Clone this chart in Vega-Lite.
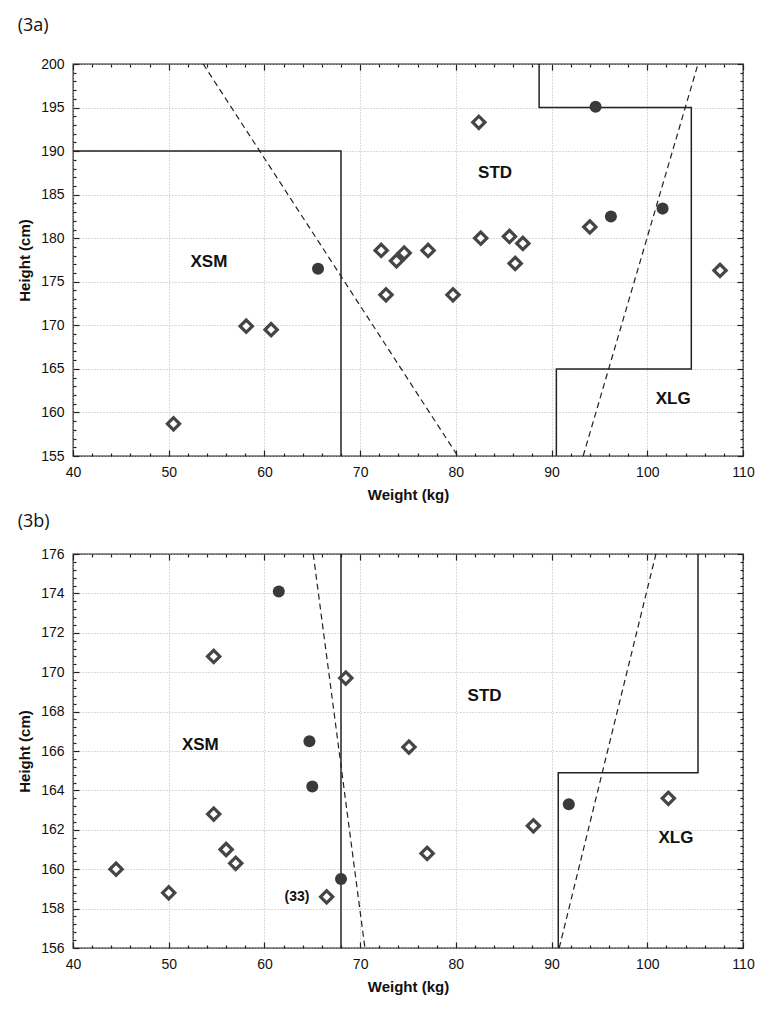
{
  "$schema": "https://vega.github.io/schema/vega-lite/v6.json",
  "padding": {"left": 16, "top": 16, "right": 10, "bottom": 4},
  "spacing": 9,
  "config": {
    "font": "Liberation Sans",
    "view": {"stroke": "#222", "strokeWidth": 1.3},
    "axis": {
      "labelFont": "Liberation Sans", "labelFontSize": 14, "labelColor": "#111",
      "titleFont": "Liberation Sans", "titleFontSize": 15, "titleFontWeight": "bold", "titleColor": "#111",
      "tickColor": "#222", "tickWidth": 1.2, "domain": false,
      "labelOverlap": false, "labelFlush": false,
      "gridColor": "#b5b5b5", "gridDash": [1, 2], "gridWidth": 1
    },
    "title": {"font": "Open Sans", "fontSize": 18, "fontWeight": "normal", "color": "#111", "anchor": "start", "frame": "bounds"}
  },
  "datasets": {
    "a_pts": [
      {"w": 50.5, "h": 158.7, "kind": "open"},
      {"w": 58.1, "h": 169.9, "kind": "open"},
      {"w": 60.7, "h": 169.5, "kind": "open"},
      {"w": 72.2, "h": 178.6, "kind": "open"},
      {"w": 72.7, "h": 173.5, "kind": "open"},
      {"w": 73.8, "h": 177.4, "kind": "open"},
      {"w": 74.6, "h": 178.3, "kind": "open"},
      {"w": 77.1, "h": 178.6, "kind": "open"},
      {"w": 79.7, "h": 173.5, "kind": "open"},
      {"w": 82.4, "h": 193.3, "kind": "open"},
      {"w": 82.6, "h": 180.0, "kind": "open"},
      {"w": 85.6, "h": 180.2, "kind": "open"},
      {"w": 86.2, "h": 177.1, "kind": "open"},
      {"w": 87.0, "h": 179.4, "kind": "open"},
      {"w": 94.0, "h": 181.3, "kind": "open"},
      {"w": 107.6, "h": 176.3, "kind": "open"},
      {"w": 65.6, "h": 176.5, "kind": "filled"},
      {"w": 94.6, "h": 195.1, "kind": "filled"},
      {"w": 96.2, "h": 182.5, "kind": "filled"},
      {"w": 101.6, "h": 183.4, "kind": "filled"}
    ],
    "a_solid": [
      {"seg": "xsm", "ord": 1, "w": 40, "h": 190},
      {"seg": "xsm", "ord": 2, "w": 68, "h": 190},
      {"seg": "xsm", "ord": 3, "w": 68, "h": 155},
      {"seg": "std", "ord": 1, "w": 88.7, "h": 200},
      {"seg": "std", "ord": 2, "w": 88.7, "h": 195},
      {"seg": "std", "ord": 3, "w": 104.6, "h": 195},
      {"seg": "std", "ord": 4, "w": 104.6, "h": 165},
      {"seg": "std", "ord": 5, "w": 90.5, "h": 165},
      {"seg": "std", "ord": 6, "w": 90.5, "h": 155}
    ],
    "a_dash": [
      {"seg": "d1", "ord": 1, "w": 53.6, "h": 200},
      {"seg": "d1", "ord": 2, "w": 80.2, "h": 155},
      {"seg": "d2", "ord": 1, "w": 93.3, "h": 155},
      {"seg": "d2", "ord": 2, "w": 105.3, "h": 200}
    ],
    "a_labels": [
      {"w": 54.2, "h": 177.3, "label": "XSM"},
      {"w": 84.1, "h": 187.5, "label": "STD"},
      {"w": 102.7, "h": 161.5, "label": "XLG"}
    ],
    "b_pts": [
      {"w": 44.5, "h": 160.0, "kind": "open"},
      {"w": 50.0, "h": 158.8, "kind": "open"},
      {"w": 54.7, "h": 170.8, "kind": "open"},
      {"w": 54.7, "h": 162.8, "kind": "open"},
      {"w": 56.0, "h": 161.0, "kind": "open"},
      {"w": 57.0, "h": 160.3, "kind": "open"},
      {"w": 66.5, "h": 158.6, "kind": "open"},
      {"w": 68.5, "h": 169.7, "kind": "open"},
      {"w": 75.1, "h": 166.2, "kind": "open"},
      {"w": 77.0, "h": 160.8, "kind": "open"},
      {"w": 88.1, "h": 162.2, "kind": "open"},
      {"w": 102.2, "h": 163.6, "kind": "open"},
      {"w": 61.5, "h": 174.1, "kind": "filled"},
      {"w": 64.7, "h": 166.5, "kind": "filled"},
      {"w": 65.0, "h": 164.2, "kind": "filled"},
      {"w": 68.0, "h": 159.5, "kind": "filled"},
      {"w": 91.8, "h": 163.3, "kind": "filled"}
    ],
    "b_solid": [
      {"seg": "xsm", "ord": 1, "w": 68, "h": 156},
      {"seg": "xsm", "ord": 2, "w": 68, "h": 176},
      {"seg": "std", "ord": 1, "w": 90.7, "h": 156},
      {"seg": "std", "ord": 2, "w": 90.7, "h": 164.9},
      {"seg": "std", "ord": 3, "w": 105.3, "h": 164.9},
      {"seg": "std", "ord": 4, "w": 105.3, "h": 176}
    ],
    "b_dash": [
      {"seg": "d1", "ord": 1, "w": 65.1, "h": 176},
      {"seg": "d1", "ord": 2, "w": 70.5, "h": 156},
      {"seg": "d2", "ord": 1, "w": 90.8, "h": 156},
      {"seg": "d2", "ord": 2, "w": 100.9, "h": 176}
    ],
    "b_labels": [
      {"w": 53.3, "h": 166.3, "label": "XSM", "big": 1},
      {"w": 83.0, "h": 168.8, "label": "STD", "big": 1},
      {"w": 103.0, "h": 161.6, "label": "XLG", "big": 1},
      {"w": 63.4, "h": 158.6, "label": "(33)", "big": 0}
    ]
  },
  "vconcat": [
    {
      "title": {"text": "(3a)", "offset": 22},
      "width": 670,
      "height": 392,
      "resolve": {"axis": {"x": "independent", "y": "independent"}},
      "layer": [
        {
          "data": {"name": "a_solid"},
          "mark": {"type": "line", "color": "#222", "strokeWidth": 1.5},
          "encoding": {
            "x": {"field": "w", "type": "quantitative", "scale": {"domain": [40, 110], "nice": false, "zero": false},
              "axis": {"orient": "bottom", "values": [40,42,44,46,48,50,52,54,56,58,60,62,64,66,68,70,72,74,76,78,80,82,84,86,88,90,92,94,96,98,100,102,104,106,108,110],
                "labelExpr": "datum.value % 10 === 0 ? datum.label : ''",
                "grid": true,
                "gridOpacity": {"condition": {"test": "datum.value % 10 === 0", "value": 1}, "value": 0},
                "tickSize": {"condition": {"test": "datum.value % 10 === 0", "value": -6}, "value": -3},
                "labelPadding": 15, "title": "Weight (kg)", "titlePadding": 5}},
            "y": {"field": "h", "type": "quantitative", "scale": {"domain": [155, 200], "nice": false, "zero": false},
              "axis": {"orient": "left", "values": [155,156,157,158,159,160,161,162,163,164,165,166,167,168,169,170,171,172,173,174,175,176,177,178,179,180,181,182,183,184,185,186,187,188,189,190,191,192,193,194,195,196,197,198,199,200],
                "labelExpr": "datum.value % 5 === 0 ? datum.label : ''",
                "grid": true,
                "gridOpacity": {"condition": {"test": "datum.value % 5 === 0", "value": 1}, "value": 0},
                "tickSize": {"condition": {"test": "datum.value % 5 === 0", "value": -6}, "value": -3},
                "labelPadding": 15, "title": "Height (cm)", "titlePadding": 8}},
            "detail": {"field": "seg"},
            "order": {"field": "ord"}
          }
        },
        {
          "data": {"name": "a_dash"},
          "mark": {"type": "line", "color": "#222", "strokeWidth": 1.2, "strokeDash": [6, 4]},
          "encoding": {
            "x": {"field": "w", "type": "quantitative", "axis": null},
            "y": {"field": "h", "type": "quantitative", "axis": null},
            "detail": {"field": "seg"},
            "order": {"field": "ord"}
          }
        },
        {
          "data": {"name": "a_pts"},
          "transform": [{"filter": "datum.kind === 'open'"}],
          "mark": {"type": "point", "shape": "diamond", "filled": false, "fill": "white", "fillOpacity": 1, "stroke": "#454545", "strokeWidth": 3.2, "size": 150, "opacity": 1},
          "encoding": {
            "x": {"field": "w", "type": "quantitative", "axis": null},
            "y": {"field": "h", "type": "quantitative", "axis": null}
          }
        },
        {
          "data": {"name": "a_pts"},
          "transform": [{"filter": "datum.kind === 'filled'"}],
          "mark": {"type": "circle", "color": "#3a3a3a", "size": 145, "opacity": 1},
          "encoding": {
            "x": {"field": "w", "type": "quantitative", "axis": null},
            "y": {"field": "h", "type": "quantitative", "axis": null}
          }
        },
        {
          "data": {"name": "a_labels"},
          "mark": {"type": "text", "font": "Liberation Sans", "fontSize": 17, "fontWeight": "bold", "color": "#111"},
          "encoding": {
            "x": {"field": "w", "type": "quantitative",
              "axis": {"orient": "top", "values": [40,42,44,46,48,50,52,54,56,58,60,62,64,66,68,70,72,74,76,78,80,82,84,86,88,90,92,94,96,98,100,102,104,106,108,110],
                "labels": false, "grid": false, "title": null,
                "tickSize": {"condition": {"test": "datum.value % 10 === 0", "value": -6}, "value": -3}}},
            "y": {"field": "h", "type": "quantitative",
              "axis": {"orient": "right", "values": [155,156,157,158,159,160,161,162,163,164,165,166,167,168,169,170,171,172,173,174,175,176,177,178,179,180,181,182,183,184,185,186,187,188,189,190,191,192,193,194,195,196,197,198,199,200],
                "labels": false, "grid": false, "title": null,
                "tickSize": {"condition": {"test": "datum.value % 5 === 0", "value": -6}, "value": -3}}},
            "text": {"field": "label"}
          }
        }
      ]
    },
    {
      "title": {"text": "(3b)", "offset": 16},
      "width": 670,
      "height": 394,
      "resolve": {"axis": {"x": "independent", "y": "independent"}},
      "layer": [
        {
          "data": {"name": "b_solid"},
          "mark": {"type": "line", "color": "#222", "strokeWidth": 1.5},
          "encoding": {
            "x": {"field": "w", "type": "quantitative", "scale": {"domain": [40, 110], "nice": false, "zero": false},
              "axis": {"orient": "bottom", "values": [40,42,44,46,48,50,52,54,56,58,60,62,64,66,68,70,72,74,76,78,80,82,84,86,88,90,92,94,96,98,100,102,104,106,108,110],
                "labelExpr": "datum.value % 10 === 0 ? datum.label : ''",
                "grid": true,
                "gridOpacity": {"condition": {"test": "datum.value % 10 === 0", "value": 1}, "value": 0},
                "tickSize": {"condition": {"test": "datum.value % 10 === 0", "value": -6}, "value": -3},
                "labelPadding": 15, "title": "Weight (kg)", "titlePadding": 5}},
            "y": {"field": "h", "type": "quantitative", "scale": {"domain": [156, 176], "nice": false, "zero": false},
              "axis": {"orient": "left", "values": [156,156.4,156.8,157.2,157.6,158,158.4,158.8,159.2,159.6,160,160.4,160.8,161.2,161.6,162,162.4,162.8,163.2,163.6,164,164.4,164.8,165.2,165.6,166,166.4,166.8,167.2,167.6,168,168.4,168.8,169.2,169.6,170,170.4,170.8,171.2,171.6,172,172.4,172.8,173.2,173.6,174,174.4,174.8,175.2,175.6,176],
                "labelExpr": "abs(datum.value / 2 - round(datum.value / 2)) < 0.001 ? format(datum.value, 'd') : ''",
                "grid": true,
                "gridOpacity": {"condition": {"test": "abs(datum.value / 2 - round(datum.value / 2)) < 0.001", "value": 1}, "value": 0},
                "tickSize": {"condition": {"test": "abs(datum.value / 2 - round(datum.value / 2)) < 0.001", "value": -6}, "value": -3},
                "labelPadding": 15, "title": "Height (cm)", "titlePadding": 8}},
            "detail": {"field": "seg"},
            "order": {"field": "ord"}
          }
        },
        {
          "data": {"name": "b_dash"},
          "mark": {"type": "line", "color": "#222", "strokeWidth": 1.2, "strokeDash": [6, 4]},
          "encoding": {
            "x": {"field": "w", "type": "quantitative", "axis": null},
            "y": {"field": "h", "type": "quantitative", "axis": null},
            "detail": {"field": "seg"},
            "order": {"field": "ord"}
          }
        },
        {
          "data": {"name": "b_pts"},
          "transform": [{"filter": "datum.kind === 'open'"}],
          "mark": {"type": "point", "shape": "diamond", "filled": false, "fill": "white", "fillOpacity": 1, "stroke": "#454545", "strokeWidth": 3.2, "size": 150, "opacity": 1},
          "encoding": {
            "x": {"field": "w", "type": "quantitative", "axis": null},
            "y": {"field": "h", "type": "quantitative", "axis": null}
          }
        },
        {
          "data": {"name": "b_pts"},
          "transform": [{"filter": "datum.kind === 'filled'"}],
          "mark": {"type": "circle", "color": "#3a3a3a", "size": 145, "opacity": 1},
          "encoding": {
            "x": {"field": "w", "type": "quantitative", "axis": null},
            "y": {"field": "h", "type": "quantitative", "axis": null}
          }
        },
        {
          "data": {"name": "b_labels"},
          "mark": {"type": "text", "font": "Liberation Sans", "fontWeight": "bold", "color": "#111"},
          "encoding": {
            "x": {"field": "w", "type": "quantitative",
              "axis": {"orient": "top", "values": [40,42,44,46,48,50,52,54,56,58,60,62,64,66,68,70,72,74,76,78,80,82,84,86,88,90,92,94,96,98,100,102,104,106,108,110],
                "labels": false, "grid": false, "title": null,
                "tickSize": {"condition": {"test": "datum.value % 10 === 0", "value": -6}, "value": -3}}},
            "y": {"field": "h", "type": "quantitative",
              "axis": {"orient": "right", "values": [156,156.4,156.8,157.2,157.6,158,158.4,158.8,159.2,159.6,160,160.4,160.8,161.2,161.6,162,162.4,162.8,163.2,163.6,164,164.4,164.8,165.2,165.6,166,166.4,166.8,167.2,167.6,168,168.4,168.8,169.2,169.6,170,170.4,170.8,171.2,171.6,172,172.4,172.8,173.2,173.6,174,174.4,174.8,175.2,175.6,176],
                "labels": false, "grid": false, "title": null,
                "tickSize": {"condition": {"test": "abs(datum.value / 2 - round(datum.value / 2)) < 0.001", "value": -6}, "value": -3}}},
            "text": {"field": "label"},
            "size": {"condition": {"test": "datum.big === 1", "value": 17}, "value": 14}
          }
        }
      ]
    }
  ]
}
